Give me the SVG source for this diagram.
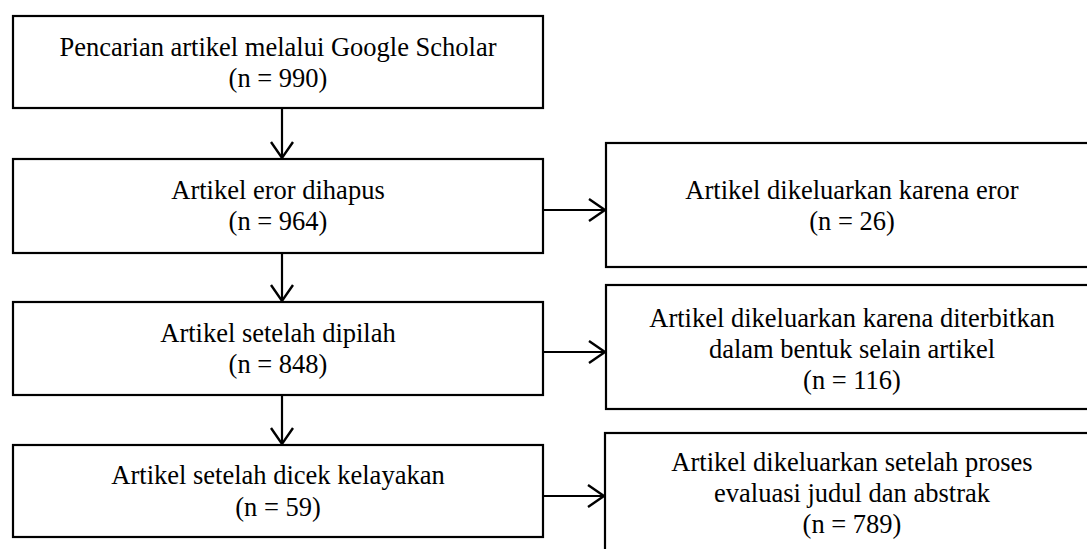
<svg xmlns="http://www.w3.org/2000/svg" width="1087" height="549" viewBox="0 0 1087 549">
<style>
.box{fill:#fff;stroke:#000;stroke-width:2.2}
.t{font-family:"Liberation Serif","Times New Roman",serif;font-size:26.5px;fill:#000;text-anchor:middle}
.c{fill:none;stroke:#000;stroke-width:2.2}
</style>
<defs>
<marker id="ah" markerWidth="20" markerHeight="26" refX="17" refY="12" orient="auto" markerUnits="userSpaceOnUse">
<path d="M1,1 L17,12 L1,23" fill="none" stroke="#000" stroke-width="2.4"/>
</marker>
</defs>
<rect width="1087" height="549" fill="#fff"/>
<g id="n1"><rect class="box" x="13" y="16" width="530" height="92"/>
<text class="t" x="278" y="56">Pencarian artikel melalui Google Scholar</text>
<text class="t" x="278" y="87">(n = 990)</text></g>
<g id="n2"><rect class="box" x="13" y="159" width="530" height="94"/>
<text class="t" x="278" y="199">Artikel eror dihapus</text>
<text class="t" x="278" y="230">(n = 964)</text></g>
<g id="n3"><rect class="box" x="13" y="302" width="530" height="93"/>
<text class="t" x="278" y="342">Artikel setelah dipilah</text>
<text class="t" x="278" y="373">(n = 848)</text></g>
<g id="n4"><rect class="box" x="13" y="445" width="530" height="92"/>
<text class="t" x="278" y="484">Artikel setelah dicek kelayakan</text>
<text class="t" x="278" y="516">(n = 59)</text></g>
<g id="r1"><rect class="box" x="606" y="143" width="500" height="124"/>
<text class="t" x="852" y="199">Artikel dikeluarkan karena eror</text>
<text class="t" x="852" y="230">(n = 26)</text></g>
<g id="r2"><rect class="box" x="606" y="285" width="500" height="124"/>
<text class="t" x="852" y="327">Artikel dikeluarkan karena diterbitkan</text>
<text class="t" x="852" y="358">dalam bentuk selain artikel</text>
<text class="t" x="852" y="389">(n = 116)</text></g>
<g id="r3"><rect class="box" x="605" y="433" width="500" height="140"/>
<text class="t" x="852" y="471">Artikel dikeluarkan setelah proses</text>
<text class="t" x="852" y="502">evaluasi judul dan abstrak</text>
<text class="t" x="852" y="533">(n = 789)</text></g>
<g id="connectors">
<line class="c" x1="282" y1="108" x2="282" y2="158" marker-end="url(#ah)"/>
<line class="c" x1="282" y1="253" x2="282" y2="301" marker-end="url(#ah)"/>
<line class="c" x1="282" y1="395" x2="282" y2="444" marker-end="url(#ah)"/>
<line class="c" x1="543" y1="210" x2="605" y2="210" marker-end="url(#ah)"/>
<line class="c" x1="543" y1="352" x2="605" y2="352" marker-end="url(#ah)"/>
<line class="c" x1="543" y1="496" x2="604" y2="496" marker-end="url(#ah)"/>
</g>
</svg>
